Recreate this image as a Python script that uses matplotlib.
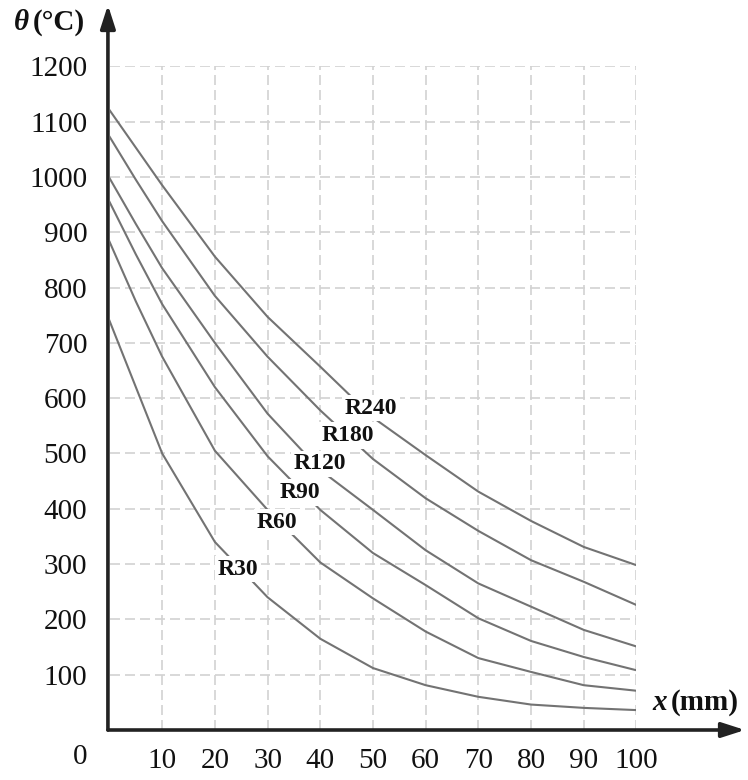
import matplotlib.pyplot as plt
import numpy as np

# distance from exposed face (mm)
x_mm = [0, 5, 10, 20, 30, 40, 50, 60, 70, 80, 90, 100]

# temperature profiles (°C) for each fire rating
r30 = [740, 620, 500, 340, 240, 165, 112, 81, 60, 46, 40, 36]
r60 = [883, 775, 675, 505, 398, 303, 238, 178, 130, 105, 81, 71]
r90 = [955, 860, 770, 620, 495, 398, 320, 262, 202, 161, 132, 108]
r120 = [998, 915, 835, 700, 572, 470, 398, 325, 265, 223, 181, 151]
r180 = [1073, 995, 920, 785, 675, 578, 490, 419, 360, 307, 268, 226]
r240 = [1121, 1053, 985, 856, 747, 657, 565, 497, 431, 378, 331, 298]

series = [r30, r60, r90, r120, r180, r240]
labels = ["R30", "R60", "R90", "R120", "R180", "R240"]
label_pos = [(24.4, 291), (31.8, 376), (36.1, 429), (39.9, 481), (45.2, 532), (49.6, 582)]

x_ticks = [10, 20, 30, 40, 50, 60, 70, 80, 90, 100]
y_ticks = [100, 200, 300, 400, 500, 600, 700, 800, 900, 1000, 1100, 1200]

serif = "Liberation Serif"

fig = plt.figure(figsize=(7.48, 7.80), dpi=100)
ax = fig.add_axes([0.1464, 0.0641, 0.7045, 0.8508])
ax.set_xlim(0, 100)
ax.set_ylim(0, 1200)

for s in series:
    ax.plot(x_mm, s, color="#737373", lw=1.5, zorder=3)

for lab, (lx, ly) in zip(labels, label_pos):
    ax.text(lx, ly, lab, ha="center", va="center", fontsize=17,
            fontweight="bold", family=serif, color="#111111", zorder=5,
            bbox=dict(boxstyle="square,pad=0.12", fc="white", ec="none"))

# dashed grid
ax.set_xticks(x_ticks)
ax.set_yticks(y_ticks)
ax.grid(True, color="#d2d2d2", lw=1.2, ls=(0, (6, 3)), zorder=1)
ax.tick_params(length=0, labelsize=21)
ax.tick_params(axis="x", pad=13)
ax.tick_params(axis="y", pad=16)
for t in ax.get_xticklabels() + ax.get_yticklabels():
    t.set_family(serif)
    t.set_color("#111111")
for sp in ax.spines.values():
    sp.set_visible(False)

# axes with arrow heads
arrow = dict(arrowstyle="-|>,head_length=1.4,head_width=0.45", color="#222222",
             lw=2.6, shrinkA=0, shrinkB=0)
ax.annotate("", xy=(1.206, 0), xytext=(-0.003, 0), xycoords="axes fraction",
            arrowprops=arrow, annotation_clip=False, zorder=6)
ax.annotate("", xy=(-0.003, 1.0925), xytext=(-0.003, 0), xycoords="axes fraction",
            arrowprops=arrow, annotation_clip=False, zorder=6)

# origin label and axis titles
fig.text(80 / 748, 1 - 757 / 780, "0", ha="center", va="center", fontsize=21,
         family=serif, color="#111111")
fig.text(14 / 748, 1 - 22 / 780, "θ", ha="left", va="center", fontsize=21,
         family=serif, fontweight="bold", fontstyle="italic", color="#111111")
fig.text(33 / 748, 1 - 22 / 780, "(°C)", ha="left", va="center", fontsize=21,
         family=serif, fontweight="bold", color="#111111")
fig.text(652 / 748, 1 - 703 / 780, "x", ha="left", va="center", fontsize=21,
         family=serif, fontweight="bold", fontstyle="italic", color="#111111")
fig.text(671 / 748, 1 - 703 / 780, "(mm)", ha="left", va="center", fontsize=21,
         family=serif, fontweight="bold", color="#111111")

fig.savefig("out.png", dpi=100, facecolor="white")
